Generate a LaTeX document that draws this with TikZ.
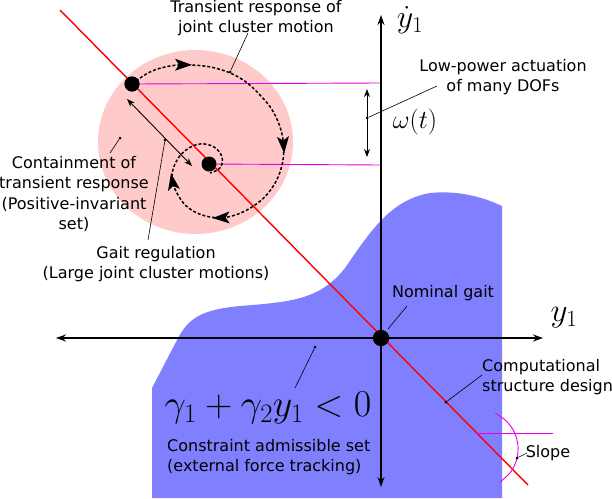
\RequirePackage{fix-cm}
\documentclass[tikz,border=0pt]{standalone}
\usepackage[no-math]{fontspec}
\newfontfamily\dvs{DejaVu Sans}
\usetikzlibrary{arrows.meta,decorations.markings}
\definecolor{pinkset}{RGB}{255,202,202}
\definecolor{blueset}{RGB}{128,128,255}
\definecolor{mag}{RGB}{232,0,232}
\newcommand{\sphead}{\fill[solid] (-9pt,-6pt) -- (8pt,0pt) -- (-9pt,6pt) -- (-5pt,0pt) -- cycle;}
\begin{document}
\begin{tikzpicture}[x=1pt,y=-1pt,
  lbl/.style={font=\dvs\fontsize{16}{20.3}\selectfont, inner sep=0pt, align=center},
  bigdot/.style={circle, fill=black, minimum size=15pt, inner sep=0pt},
  tinydot/.style={circle, fill=black, minimum size=3pt, inner sep=0pt},
  leader/.style={line width=0.6pt},
  axisline/.style={line width=1.2pt, -{Stealth[length=10pt,width=7pt]}},
  dblarrow/.style={line width=0.9pt, {Stealth[length=8pt,width=6pt]}-{Stealth[length=8pt,width=6pt]}},
  magline/.style={mag, line width=0.9pt},
  spiral/.style={line width=1.5pt, dash pattern=on 3pt off 2pt,
    decoration={markings,
      mark=at position 0.12 with {\sphead},
      mark=at position 0.42 with {\sphead},
      mark=at position 0.645 with {\sphead},
      mark=at position 0.785 with {\sphead}},
    postaction=decorate}]
\useasboundingbox (0,0) rectangle (612,498);

% sets
\fill[pinkset] (195.5,142) ellipse [x radius=97.5pt, y radius=92pt];
\fill[blueset] (152,498) -- (152,388) -- (176,342)
  .. controls (188,318) and (200,310) .. (240,306)
  .. controls (290,302) and (320,300) .. (345,268)
  .. controls (370,232) and (390,200) .. (430,193)
  .. controls (460,190) and (485,198) .. (502,206)
  -- (502,498) -- cycle;

% key points
\node[bigdot] (big) at (132,84) {};
\node[bigdot] (small) at (209,164) {};
\node[bigdot, minimum size=16pt] (O) at (381,338) {};
\coordinate (ytop) at (381,15);
\coordinate (ybot) at (381,487);
\coordinate (xleft) at (56,338);
\coordinate (xright) at (543,338);
\coordinate (redA) at (60,10);
\coordinate (redB) at (528,485);
\coordinate (m1) at (381,83);
\coordinate (m2) at (381,165);

% magenta projections
\draw[magline] (big.center) -- (m1);
\draw[magline] (small.center) -- (m2);

% red line
\draw[red, line width=1.4pt] (redA) -- (redB);

% axes
\draw[axisline] (O.center) -- (ytop);
\draw[axisline] (O.center) -- (ybot);
\draw[axisline] (O.center) -- (xleft);
\draw[axisline] (O.center) -- (xright);

% spiral
\draw[spiral] plot[smooth, tension=0.65] coordinates {
  (132,84) (150,72) (170,66) (190,65) (215,68) (240,78) (260,95)
  (275,115) (283,140) (282,165) (272,188) (255,205) (232,216)
  (210,217) (190,209) (178,195) (172,178) (176,162) (186,150)
  (200,144) (214,147) (222,157) (220,168) (210,173)};

% redraw dots on top
\fill (big) circle (7.5pt);
\fill (small) circle (7pt);
\fill (O) circle (8pt);

% gait regulation double arrow
\coordinate (gA) at (127,99);
\coordinate (gB) at (192,166);
\draw[dblarrow] (gA) -- (gB);

% omega double arrow
\coordinate (wA) at (367,89);
\coordinate (wB) at (367,157);
\draw[dblarrow] (wA) -- (wB);

% slope marker
\coordinate (sh1) at (476,433);
\coordinate (sh2) at (553,433);
\draw[mag, line width=0.7pt] (sh1) -- (sh2);
\draw[mag, line width=0.9pt] plot[smooth] coordinates {
  (495.3,413.2) (506.5,421.1) (514.4,432.3) (518,445.6) (516.8,459.2) (511,471.7) (500.1,482.1)};

% labels
\node[lbl] (trtext) at (256,18) {Transient response of\\joint cluster motion};
\node[lbl] (lowtext) at (503,77) {Low-power actuation\\of many DOFs};
\node[lbl] (conttext) at (74,194) {Containment of\\transient response\\(Positive-invariant\\set)};
\node[lbl] (gaittext) at (156,264) {Gait regulation\\(Large joint cluster motions)};
\node[lbl] (nomtext) at (443,293) {Nominal gait};
\node[lbl, align=left, anchor=west] (comptext) at (482,377) {Computational\\structure design};
\node[lbl] (slopetext) at (548,453) {Slope};
\node[lbl, align=left, anchor=west] (constext) at (167,457) {Constraint admissible set\\(external force tracking)};

\node[inner sep=0pt, font=\fontsize{38}{40}\selectfont] (ineq) at (268,408) {$\gamma_1+\gamma_2 y_1<0$};
\node[inner sep=0pt, font=\fontsize{32}{34}\selectfont] (ydot) at (410,20) {$\dot{y}_1$};
\node[inner sep=0pt, font=\fontsize{33}{35}\selectfont] (ylab) at (564,318) {$y_1$};
\node[inner sep=0pt, font=\fontsize{26}{28}\selectfont] (om) at (415,122) {$\omega(t)$};

% leaders
\node[tinydot] (d1) at (230,72) {};
\coordinate (e1) at (248,33);
\draw[leader] (d1) -- (e1);

\node[tinydot] (d2) at (367,118) {};
\coordinate (e2) at (437,86);
\draw[leader] (d2) -- (e2);

\node[tinydot] (d3) at (120,138) {};
\coordinate (e3) at (110,153);
\draw[leader] (d3) -- (e3);

\node[tinydot] (d4) at (165,140) {};
\coordinate (e4) at (148,240);
\draw[leader] (d4) -- (e4);

\coordinate (d5) at (388,329);
\coordinate (e5) at (407,306);
\draw[leader] (d5) -- (e5);

\node[tinydot] (d6) at (446,402) {};
\coordinate (e6) at (482,375);
\draw[leader] (d6) -- (e6);

\node[tinydot] (d7) at (517,458) {};
\coordinate (e7) at (527,453);
\draw[leader] (d7) -- (e7);

\node[tinydot] (d8) at (315,347) {};
\coordinate (e8) at (295,388);
\draw[leader] (d8) -- (e8);
\end{tikzpicture}
\end{document}
